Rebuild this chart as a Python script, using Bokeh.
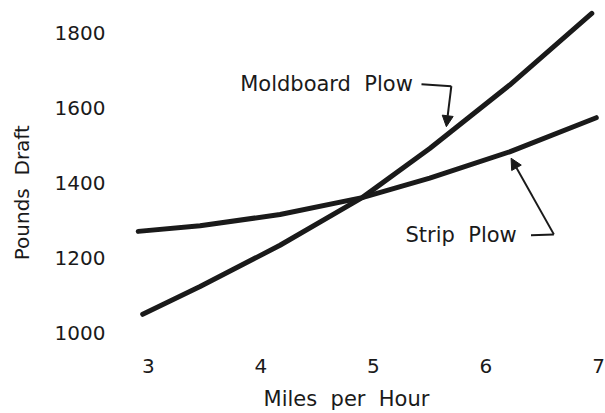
from bokeh.plotting import figure
from bokeh.models import Range1d, FixedTicker, Label, Arrow, NormalHead
from bokeh.embed import file_html
from bokeh.resources import INLINE

# ---- data ----
strip_mph = [2.91, 3.46, 4.17, 4.90, 5.50, 6.21, 6.98]
strip_draft = [1272, 1287, 1317, 1362, 1414, 1484, 1575]
mold_mph = [2.95, 3.46, 4.17, 4.90, 5.50, 6.21, 6.94]
mold_draft = [1051, 1125, 1235, 1362, 1493, 1662, 1853]
x_ticks = [3, 4, 5, 6, 7]
y_ticks = [1000, 1200, 1400, 1600, 1800]
NB = "\u00a0"
x_title = "Miles" + NB + " per" + NB + " Hour" + NB * 3
y_title = "Pounds" + NB + " Draft" + NB * 4
mold_label = "Moldboard" + NB + " Plow"
strip_label = "Strip" + NB + " Plow"

FONT = "DejaVu Sans"
INK = "#1a1a1a"

p = figure(width=605, height=413, output_backend="svg", toolbar_location=None,
           x_range=Range1d(2.646, 7.053), y_range=Range1d(943.8, 1874.1),
           min_border_left=108, min_border_right=1, min_border_top=5,
           min_border_bottom=54)
p.outline_line_color = None
p.grid.grid_line_color = None
p.background_fill_color = "white"
p.border_fill_color = "white"

for ax, ticks in ((p.xaxis[0], x_ticks), (p.yaxis[0], y_ticks)):
    ax.ticker = FixedTicker(ticks=ticks)
    ax.axis_line_color = None
    ax.major_tick_line_color = None
    ax.minor_tick_line_color = None
    ax.major_tick_out = 0
    ax.major_tick_in = 0
    ax.major_label_text_font = FONT
    ax.major_label_text_font_size = "20px"
    ax.major_label_text_color = INK
    ax.axis_label_text_font = FONT
    ax.axis_label_text_font_style = "normal"
    ax.axis_label_text_color = INK
p.xaxis.major_label_standoff = 4
p.yaxis.major_label_standoff = 3
p.xaxis.axis_label = x_title
p.xaxis.axis_label_text_font_size = "21px"
p.xaxis.axis_label_standoff = 11
p.yaxis.axis_label = y_title
p.yaxis.axis_label_text_font_size = "20px"
p.yaxis.axis_label_standoff = 18

p.line(mold_mph, mold_draft, line_width=5, line_color=INK, line_cap="round", line_join="round")
p.line(strip_mph, strip_draft, line_width=5, line_color=INK, line_cap="round", line_join="round")

# annotations
p.add_layout(Label(x=3.816, y=1664, text=mold_label, text_font=FONT, text_font_size="21px",
                   text_color=INK, text_align="left", text_baseline="middle"))
p.add_layout(Arrow(end=None, x_start=5.427, y_start=1664, x_end=5.692, y_end=1659,
                   line_width=2, line_color=INK))
p.add_layout(Arrow(end=NormalHead(size=11, fill_color=INK, line_color=INK),
                   x_start=5.692, y_start=1659, x_end=5.648, y_end=1551,
                   line_width=2, line_color=INK))

p.add_layout(Label(x=5.285, y=1262, text=strip_label, text_font=FONT, text_font_size="21px",
                   text_color=INK, text_align="left", text_baseline="middle"))
p.add_layout(Arrow(end=None, x_start=6.400, y_start=1262, x_end=6.603, y_end=1264,
                   line_width=2, line_color=INK))
p.add_layout(Arrow(end=NormalHead(size=11, fill_color=INK, line_color=INK),
                   x_start=6.603, y_start=1264, x_end=6.223, y_end=1467,
                   line_width=2, line_color=INK))

open("out.html", "w").write(file_html(p, INLINE))
